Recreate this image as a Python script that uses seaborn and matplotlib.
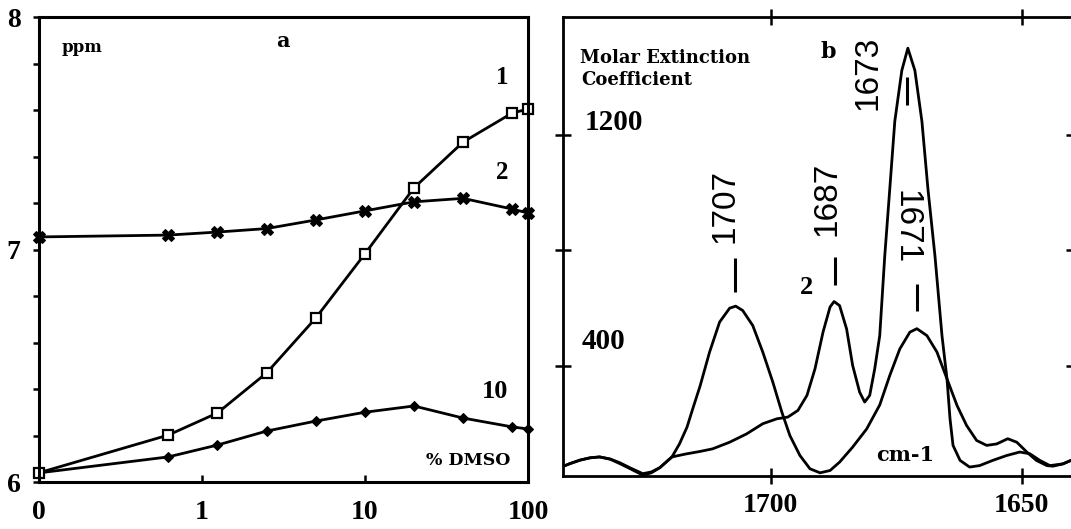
import numpy as np
import pandas as pd
import matplotlib
matplotlib.use("Agg")
import matplotlib.pyplot as plt
import seaborn as sns
from matplotlib.ticker import FixedLocator, NullLocator

sns.set_theme(style="ticks")
plt.rcParams['font.family'] = ['Liberation Serif', 'DejaVu Serif']
plt.rcParams.update({
    'axes.grid': False,
    'text.color': 'black',
    'axes.labelcolor': 'black',
    'axes.edgecolor': 'black',
    'xtick.color': 'black',
    'ytick.color': 'black',
})

# ---------------- panel a : chemical shift vs % DMSO ----------------
dmso_pct = [0, 0.625, 1.25, 2.5, 5, 10, 20, 40, 80, 100]
ppm_1 = [6.039, 6.202, 6.297, 6.469, 6.705, 6.981, 7.265, 7.462, 7.587, 7.604]
ppm_2 = [7.054, 7.062, 7.075, 7.090, 7.127, 7.166, 7.205, 7.220, 7.174, 7.157]
ppm_10 = [6.039, 6.108, 6.159, 6.219, 6.262, 6.300, 6.327, 6.275, 6.237, 6.228]
a_xticks = [0, 1, 10, 100]
a_xticklabels = ["0", "1", "10", "100"]
a_yticks = [6, 7, 8]
a_yticklabels = ["6", "7", "8"]

# ---------------- panel b : IR spectra ----------------
wn_A = [1742.0, 1740.0, 1738.0, 1736.0, 1734.1, 1732.0, 1730.1, 1728.0, 1725.5, 1723.8,
        1722.1, 1719.7, 1718.2, 1716.7, 1715.4, 1714.1, 1712.2, 1710.2, 1708.2, 1707.0,
        1705.6, 1703.6, 1701.6, 1699.6, 1697.8, 1696.2, 1694.2, 1692.2, 1690.2, 1688.2,
        1686.3, 1683.7, 1680.9, 1678.3, 1676.3, 1674.3, 1672.3, 1670.9, 1668.9, 1666.9,
        1664.9, 1662.9, 1661.0, 1659.0, 1657.0, 1655.0, 1652.8, 1651.0, 1649.0, 1647.1,
        1645.0, 1643.8, 1641.8, 1640.2]
eps_A = [48, 62, 74, 82, 85, 78, 65, 47, 27, 33,
         48, 85, 130, 188, 260, 330, 448, 552, 600, 607,
         592, 540, 448, 344, 240, 159, 90, 44, 30, 38,
         67, 119, 182, 265, 367, 459, 517, 529, 505, 448,
         355, 263, 194, 142, 125, 130, 148, 136, 102, 73,
         55, 53, 61, 73]

wn_B = [1742.0, 1740.0, 1738.0, 1736.0, 1734.1, 1732.0, 1730.1, 1728.0, 1725.5, 1723.8,
        1722.1, 1719.7, 1717.0, 1714.1, 1711.6, 1708.2, 1704.8, 1701.6, 1698.8, 1696.6,
        1694.6, 1692.8, 1691.2, 1689.6, 1688.2, 1687.4, 1686.3, 1684.9, 1683.7, 1682.3,
        1681.3, 1680.3, 1679.3, 1678.3, 1677.3, 1676.3, 1675.3, 1673.9, 1672.7, 1671.3,
        1669.9, 1668.7, 1667.3, 1665.9, 1664.9, 1664.3, 1663.7, 1662.3, 1660.4, 1658.4,
        1655.8, 1653.0, 1650.4, 1648.4, 1646.4, 1644.4, 1641.8, 1640.2]
eps_B = [48, 62, 74, 82, 85, 77, 62, 44, 22, 30,
         48, 85, 95, 104, 113, 136, 165, 200, 217, 223,
         246, 298, 390, 517, 604, 623, 609, 528, 402, 309,
         275, 298, 390, 505, 781, 1013, 1247, 1423, 1500, 1423,
         1247, 1013, 781, 505, 355, 217, 125, 73, 50, 55,
         73, 90, 102, 96, 73, 55, 61, 73]

b_xticks = [1700, 1650]
b_xticklabels = ["1700", "1650"]
b_yticks = [400, 800, 1200]

peak_text = ["1707", "1687", "1673", "1671"]
peak_text_wn = [1709.2, 1688.8, 1680.6, 1673.1]
peak_text_eps = [954, 978, 1414, 881]
peak_text_rot = [90, 90, 90, -90]
peak_mark_wn = [1707.2, 1687.3, 1672.9, 1670.9]
peak_mark_lo = [656, 680, 1304, 590]
peak_mark_hi = [774, 777, 1400, 684]

ZERO_POS = 0.1  # where "0 %" sits on the logarithmic axis


def to_axis(values):
    return [ZERO_POS if v == 0 else v for v in values]


W, H = 1071, 529
fig = plt.figure(figsize=(W / 100, H / 100), dpi=100)
fig.patch.set_facecolor("white")

# ---------------- panel a ----------------
axa = fig.add_axes([38.5 / W, 1 - 482 / H, (528 - 38.5) / W, (482 - 17) / H])
xa = to_axis(dmso_pct)
common = dict(color="black", linewidth=2.0, estimator=None, sort=False, ax=axa, clip_on=False)
sns.lineplot(x=xa, y=ppm_2, marker="X", markersize=8, markerfacecolor="black",
             markeredgecolor="black", **common)
sns.lineplot(x=xa, y=ppm_10, marker="D", markersize=5.5, markerfacecolor="black",
             markeredgecolor="black", **common)
sns.lineplot(x=xa, y=ppm_1, marker="s", markersize=6.5, markerfacecolor="white",
             markeredgecolor="black", markeredgewidth=1.6, **common)

axa.set_xscale("log")
axa.set_xlim(ZERO_POS, 100)
axa.set_ylim(6, 8)
axa.xaxis.set_major_locator(FixedLocator(to_axis(a_xticks)))
axa.xaxis.set_minor_locator(NullLocator())
axa.set_xticklabels(a_xticklabels, fontsize=20, fontweight="bold", family="Liberation Serif")
axa.set_yticks(a_yticks)
axa.set_yticks(np.arange(6, 8.001, 0.2), minor=True)
axa.set_yticklabels(a_yticklabels, fontsize=20, fontweight="bold", family="Liberation Serif")
axa.tick_params(axis="x", which="major", direction="in", length=5, width=1.8, pad=13)
axa.tick_params(axis="y", which="both", direction="out", length=4, width=1.8, pad=9)
axa.set_xlabel("")
axa.set_ylabel("")
for s in axa.spines.values():
    s.set_linewidth(2.2)
    s.set_color("black")

ta = dict(transform=axa.transAxes, ha="center", va="center", fontweight="bold")
axa.text(0.089, 0.935, "ppm", fontsize=12, family="DejaVu Serif", **ta)
axa.text(0.499, 0.948, "a", fontsize=15, family="DejaVu Serif", **ta)
axa.text(0.947, 0.869, "1", fontsize=18, family="Liberation Serif", **ta)
axa.text(0.947, 0.665, "2", fontsize=18, family="Liberation Serif", **ta)
axa.text(0.932, 0.194, "10", fontsize=19, family="Liberation Serif", **ta)
axa.text(0.877, 0.047, "% DMSO", fontsize=12.5, family="DejaVu Serif", **ta)

# ---------------- panel b ----------------
axb = fig.add_axes([563 / W, 1 - 476 / H, (1074 - 563) / W, (476 - 17) / H])
sns.lineplot(x=wn_A, y=eps_A, color="black", linewidth=2.0, estimator=None, sort=False, ax=axb)
sns.lineplot(x=wn_B, y=eps_B, color="black", linewidth=2.0, estimator=None, sort=False, ax=axb)
axb.set_xlim(1741.4, 1639.6)
axb.set_ylim(19, 1608)
axb.set_xticks(b_xticks)
axb.set_xticklabels(b_xticklabels, fontsize=20, fontweight="bold", family="Liberation Serif")
axb.set_yticks(b_yticks)
axb.tick_params(axis="x", direction="inout", length=12, width=1.8, top=True, bottom=True,
                labeltop=False, pad=6)
axb.tick_params(axis="y", direction="inout", length=11, width=1.8, left=True, right=True,
                labelleft=False, labelright=False)
axb.set_xlabel("")
axb.set_ylabel("")
axb.spines["right"].set_visible(False)
for k in ("left", "top", "bottom"):
    axb.spines[k].set_linewidth(2.0)
    axb.spines[k].set_color("black")

axb.vlines(peak_mark_wn, peak_mark_lo, peak_mark_hi, color="black", linewidth=2.2)
for t, x, y, r in zip(peak_text, peak_text_wn, peak_text_eps, peak_text_rot):
    axb.text(x, y, t, rotation=r, ha="center", va="center", fontsize=24,
             family="Liberation Sans")

tb = dict(transform=axb.transAxes, va="center", fontweight="bold")
axb.text(0.033, 0.911, "Molar Extinction", ha="left", fontsize=13, family="DejaVu Serif", **tb)
axb.text(0.035, 0.863, "Coefficient", ha="left", fontsize=13, family="DejaVu Serif", **tb)
axb.text(0.519, 0.924, "b", ha="center", fontsize=16, family="DejaVu Serif", **tb)
axb.text(0.477, 0.410, "2", ha="center", fontsize=19, family="Liberation Serif", **tb)
axb.text(0.669, 0.046, "cm-1", ha="center", fontsize=15, family="DejaVu Serif", **tb)
axb.text(0.043, 0.771, "1200", ha="left", fontsize=21, family="Liberation Serif", **tb)
axb.text(0.037, 0.294, "400", ha="left", fontsize=21, family="Liberation Serif", **tb)

fig.savefig("out.png", dpi=100, facecolor="white")
